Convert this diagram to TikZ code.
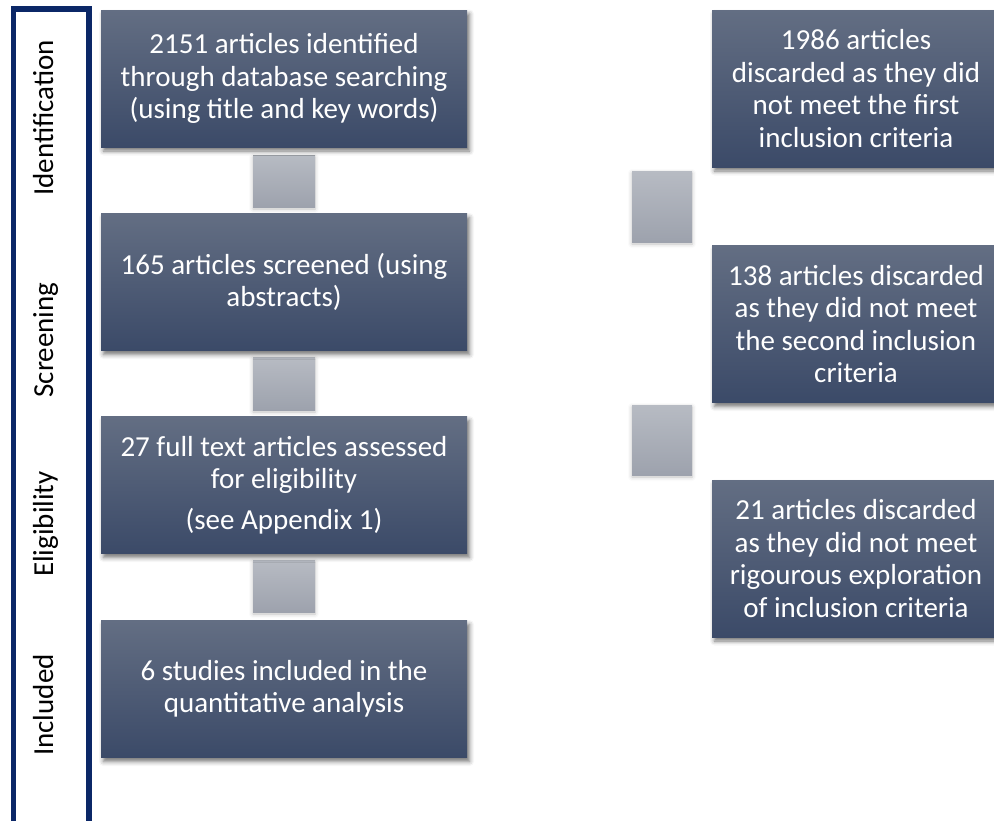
\documentclass[tikz,border=0pt]{standalone}
\usepackage{fontspec}
\setmainfont{Carlito}
\usetikzlibrary{shadows.blur}

\definecolor{boxtop}{HTML}{636E83}
\definecolor{boxbot}{HTML}{3B4A68}
\definecolor{greytop}{HTML}{B7BBC3}
\definecolor{greybot}{HTML}{9DA2AD}
\definecolor{framenavy}{HTML}{0B2767}

\tikzset{
  stagebox/.style={
    rectangle, inner sep=0pt, align=center, text=white,
    top color=boxtop, bottom color=boxbot, draw=none,
    font=\fontsize{29}{32.5}\selectfont,
    blur shadow={shadow xshift=2.5pt, shadow yshift=-4pt,
                 shadow blur radius=4.5pt, shadow opacity=55}
  },
  leftbox/.style={stagebox, minimum width=366pt, minimum height=137pt},
  rightbox/.style={stagebox, minimum width=288pt, minimum height=157pt},
  flowblock/.style={
    rectangle, inner sep=0pt, draw=none,
    top color=greytop, bottom color=greybot,
    blur shadow={shadow xshift=0pt, shadow yshift=-2pt,
                 shadow blur radius=4pt, shadow opacity=25}
  },
  phaselabel/.style={
    rotate=90, anchor=base, inner sep=0pt, text=black,
    font=\fontsize{29}{32}\selectfont
  }
}

\begin{document}
\begin{tikzpicture}[x=1pt, y=-1pt]
  \useasboundingbox (0,0) rectangle (994,820);
  \clip (0,0) rectangle (994,820);

  % phase frame on the left
  \draw[framenavy, line width=5.5pt] (13.5,840) -- (13.5,9) -- (89,9) -- (89,840);

  % phase names
  \node[phaselabel] (lid)  at (53,118) {Identification};
  \node[phaselabel] (lscr) at (53,340) {Screening};
  \node[phaselabel] (lel)  at (53,524) {Eligibility};
  \node[phaselabel] (linc) at (53,705) {Included};

  % grey step blocks of the main column
  \node[flowblock, minimum width=62pt, minimum height=52pt] (g1) at (284,181) {};
  \node[flowblock, minimum width=62pt, minimum height=53pt] (g2) at (284,383.5) {};
  \node[flowblock, minimum width=62pt, minimum height=52pt] (g3) at (284,586) {};

  % grey step blocks of the discarded column
  \node[flowblock, minimum width=60pt, minimum height=71pt] (d1) at (662,206.5) {};
  \node[flowblock, minimum width=60pt, minimum height=70pt] (d2) at (662,440) {};

  % main column
  \node[leftbox] (ident) at (284,78.5)
    {2151 articles identified\\through database searching\\(using title and key words)};
  \node[leftbox] (screen) at (284,282)
    {165 articles screened (using\\abstracts)};
  \node[leftbox] (elig) at (284,485)
    {27 full text articles assessed\\for eligibility\\[8pt](see Appendix 1)};
  \node[leftbox] (incl) at (284,689)
    {6 studies included in the\\quantitative analysis};

  % discarded column
  \node[rightbox] (disc1) at (856,88.5)
    {1986 articles\\discarded as they did\\not meet the first\\inclusion criteria};
  \node[rightbox] (disc2) at (856,324)
    {138 articles discarded\\as they did not meet\\the second inclusion\\criteria};
  \node[rightbox] (disc3) at (856,558.5)
    {21 articles discarded\\as they did not meet\\rigourous exploration\\of inclusion criteria};
\end{tikzpicture}
\end{document}
